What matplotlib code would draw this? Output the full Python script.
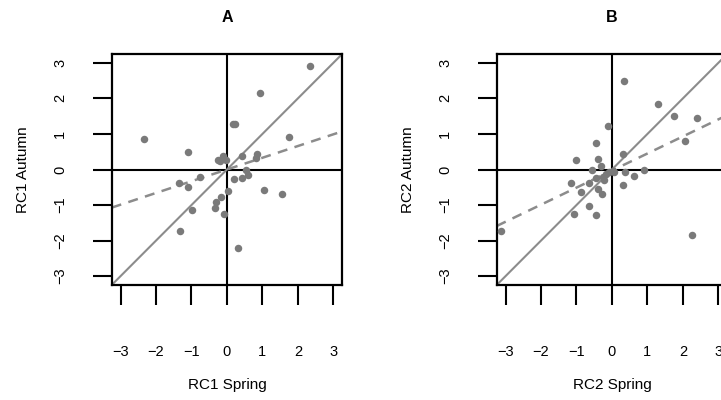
import matplotlib
matplotlib.use("Agg")
import matplotlib.pyplot as plt
import numpy as np

plt.rcParams['font.family'] = ['Liberation Sans', 'DejaVu Sans']

# Panel A: RC1 spring vs autumn scores
rc1_spring = [2.33, 0.93, 0.17, 0.24, -2.35, 1.75, -1.10, 0.43, 0.86, 0.83,
              -0.11, -0.26, -0.19, -0.02, 0.55, 0.60, 0.42, 0.19, -0.76, -1.35,
              -1.10, 0.04, 1.04, 1.54, -0.17, -0.32, -0.34, -0.99, -0.09, -1.33, 0.31]
rc1_autumn = [2.92, 2.16, 1.27, 1.28, 0.86, 0.91, 0.49, 0.38, 0.43, 0.31,
              0.39, 0.28, 0.24, 0.28, -0.02, -0.15, -0.23, -0.26, -0.21, -0.39,
              -0.50, -0.60, -0.57, -0.68, -0.76, -0.91, -1.09, -1.15, -1.24, -1.72, -2.21]

# Panel B: RC2 spring vs autumn scores
rc2_spring = [0.34, 1.29, 1.76, 2.41, 2.06, -0.12, -0.44, -1.01, -0.40, 0.30,
              -0.30, -0.57, 0.91, 0.36, 0.61, 0.02, -0.08, -0.17, -0.24, -0.45,
              -0.23, -1.16, -0.65, 0.32, -0.87, -0.38, -0.27, -0.66, -1.07, -0.44,
              2.25, -3.13, 0.07]
rc2_autumn = [2.49, 1.83, 1.51, 1.45, 0.79, 1.23, 0.74, 0.26, 0.29, 0.43,
              0.09, -0.02, -0.01, -0.08, -0.17, -0.04, -0.08, -0.13, -0.21, -0.24,
              -0.29, -0.37, -0.38, -0.43, -0.62, -0.56, -0.68, -1.03, -1.26, -1.29,
              -1.83, -1.74, -0.06]

# fitted lines (intercept, slope)
fit_a = (0.0, 0.33)
fit_b = (-0.03, 0.48)

ticks = [-3, -2, -1, 0, 1, 2, 3]
lim = 3.25

W, H = 721, 400
fig = plt.figure(figsize=(W / 100, H / 100), dpi=100)

# left edge of each box in pixels, data, labels
panels = [
    (111.7, rc1_spring, rc1_autumn, fit_a, "A", "RC1 Spring", "RC1 Autumn"),
    (496.7, rc2_spring, rc2_autumn, fit_b, "B", "RC2 Spring", "RC2 Autumn"),
]

box_w = 230.5
box_top = 54
box_bot = 285
box_h = box_bot - box_top

for left, xs, ys, fit, title, xlab, ylab in panels:
    ax = fig.add_axes([left / W, (H - box_bot) / H, box_w / W, box_h / H])
    ax.set_xlim(-lim, lim)
    ax.set_ylim(-lim, lim)

    ax.axhline(0, color="black", lw=1.5, zorder=1)
    ax.axvline(0, color="black", lw=1.5, zorder=1)
    ax.axline((0, 0), slope=1, color="#8c8c8c", lw=1.5, zorder=2)
    ax.axline((0, fit[0]), slope=fit[1], color="#8c8c8c", lw=1.8,
              dashes=(4, 3), zorder=2)
    ax.plot(xs, ys, "o", color="#7a7a7a", markersize=5.4, markeredgewidth=0, zorder=3)

    for s in ax.spines.values():
        s.set_linewidth(1.6)

    ax.set_xticks(ticks)
    ax.set_yticks(ticks)
    ax.set_xticklabels([str(t).replace("-", "\u2212") for t in ticks])
    ax.set_yticklabels([str(t).replace("-", "\u2212") for t in ticks],
                       rotation=90, va="center")
    ax.tick_params(axis="x", length=14.5, width=1.5, pad=29, labelsize=10.5)
    ax.tick_params(axis="y", length=14, width=1.5, pad=18, labelsize=10.5)

    ax.text(0.5, 1 + 36 / box_h, title, transform=ax.transAxes, ha="center",
            va="center", fontsize=11.5, fontweight="bold")
    ax.text(0.5, -100 / box_h, xlab, transform=ax.transAxes, ha="center",
            va="center", fontsize=11)
    ax.text(-89 / box_w, 0.5, ylab, transform=ax.transAxes,
            ha="center", va="center", rotation=90, fontsize=11)

fig.savefig("out.png", dpi=100)
